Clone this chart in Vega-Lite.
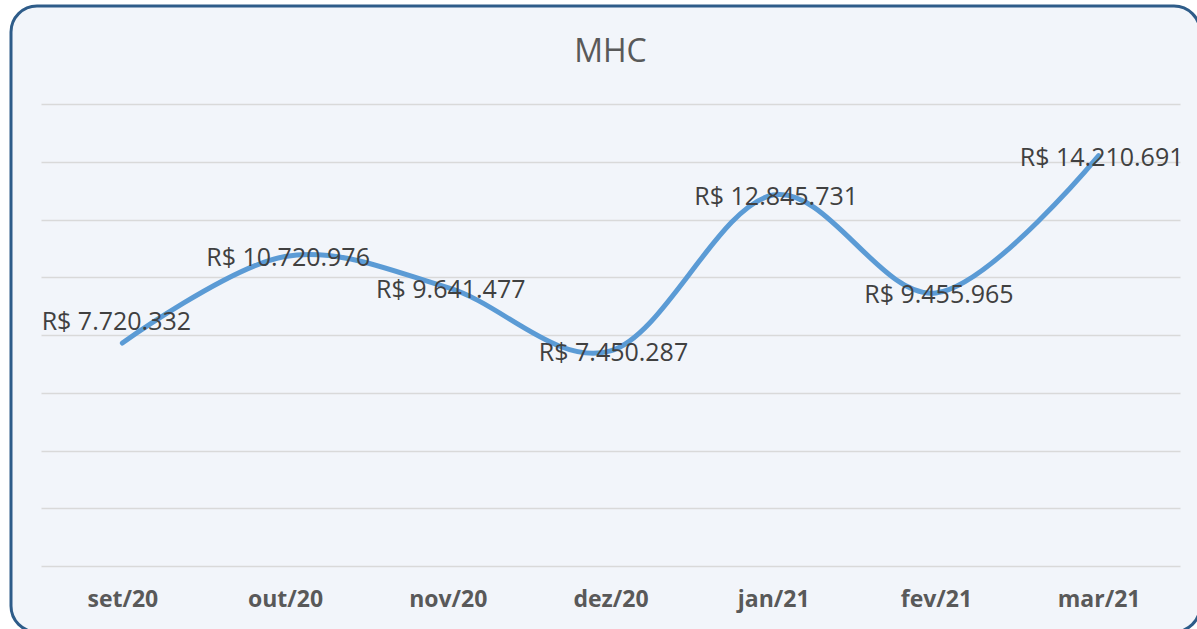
{
  "$schema": "https://vega.github.io/schema/vega-lite/v6.json",
  "autosize": {"type": "none"},
  "width": 1189,
  "height": 626,
  "padding": {"left": 11, "top": 6, "right": 0, "bottom": 0},
  "background": "#ffffff",
  "title": {
    "text": "MHC",
    "font": "Open Sans",
    "fontSize": 32,
    "fontWeight": "normal",
    "color": "#595959",
    "anchor": "middle",
    "orient": "top",
    "baseline": "middle",
    "offset": -78,
    "dx": 5
  },
  "config": {
    "locale": {"number": {"decimal": ",", "thousands": ".", "grouping": [3], "currency": ["R$ ", ""]}},
    "view": {"fill": "#f2f5fa", "stroke": "#2e5c89", "strokeWidth": 3, "cornerRadius": 26}
  },
  "data": {
    "values": [
      {"mes": "set/20", "valor": 7720332, "ajuste": 1},
      {"mes": "out/20", "valor": 10720976, "ajuste": 0},
      {"mes": "nov/20", "valor": 9641477, "ajuste": 0},
      {"mes": "dez/20", "valor": 7450287, "ajuste": 0},
      {"mes": "jan/21", "valor": 12845731, "ajuste": 0},
      {"mes": "fev/21", "valor": 9455965, "ajuste": 0},
      {"mes": "mar/21", "valor": 14210691, "ajuste": 0}
    ]
  },
  "encoding": {
    "x": {
      "field": "mes",
      "type": "ordinal",
      "sort": null,
      "scale": {"range": [30, 1169], "paddingInner": 0, "paddingOuter": 0},
      "axis": {
        "title": null,
        "domain": false,
        "ticks": false,
        "labelAngle": 0,
        "labelFont": "Open Sans",
        "labelFontSize": 23,
        "labelFontWeight": "bold",
        "labelColor": "#595959",
        "labelPadding": 22,
        "offset": -66
      }
    },
    "y": {
      "field": "valor",
      "type": "quantitative",
      "scale": {"domain": [0, 16000000], "range": [560, 98], "nice": false, "zero": true},
      "axis": {
        "title": null,
        "labels": false,
        "ticks": false,
        "domain": false,
        "grid": true,
        "gridColor": "#d9d9d9",
        "gridWidth": 1.5,
        "values": [0, 2000000, 4000000, 6000000, 8000000, 10000000, 12000000, 14000000, 16000000]
      }
    }
  },
  "layer": [
    {
      "mark": {"type": "line", "interpolate": "cardinal", "color": "#5b9bd5", "strokeWidth": 5, "strokeCap": "round"}
    },
    {
      "transform": [{"filter": "datum.ajuste == 0"}],
      "mark": {"type": "text", "font": "Open Sans", "fontSize": 25, "color": "#404040", "baseline": "middle", "align": "center", "dy": 2, "dx": 3},
      "encoding": {"text": {"field": "valor", "type": "quantitative", "format": "$,.0f"}}
    },
    {
      "transform": [{"filter": "datum.ajuste == 1"}],
      "mark": {"type": "text", "font": "Open Sans", "fontSize": 25, "color": "#404040", "baseline": "middle", "align": "center", "dy": -21, "dx": -6},
      "encoding": {"text": {"field": "valor", "type": "quantitative", "format": "$,.0f"}}
    }
  ]
}
